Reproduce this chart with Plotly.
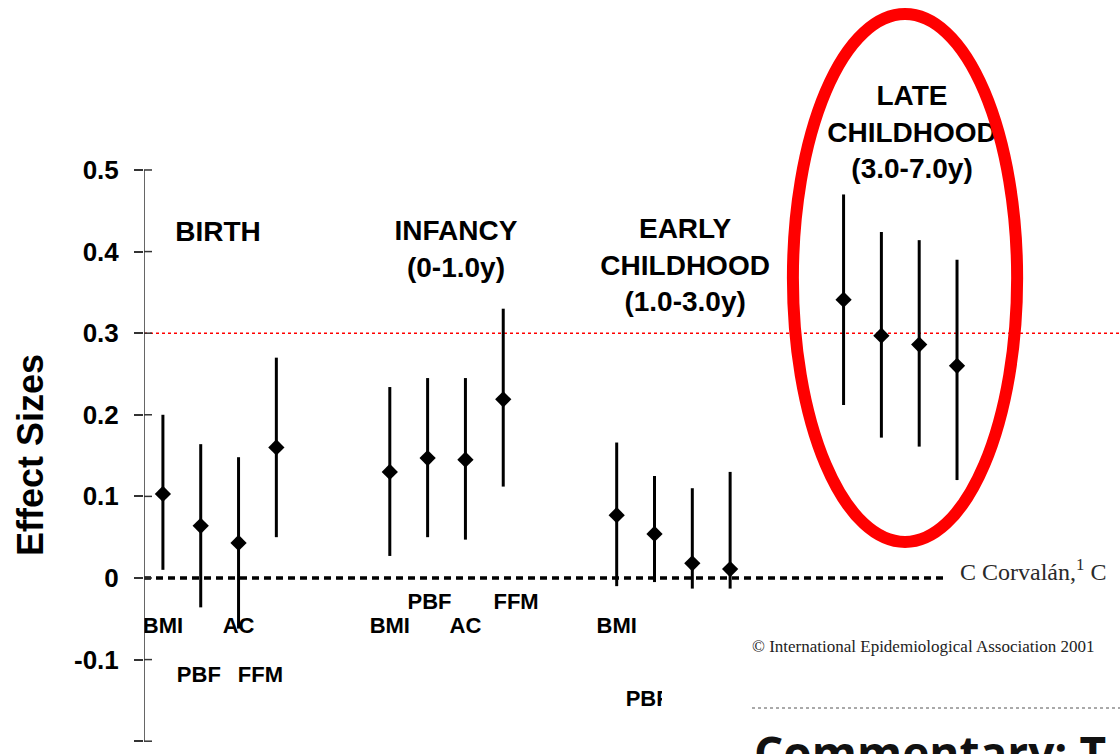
import plotly.graph_objects as go

# ---------------- data ----------------
metrics = ["BMI", "PBF", "AC", "FFM"]
groups = ["BIRTH", "INFANCY<br>(0-1.0y)", "EARLY<br>CHILDHOOD<br>(1.0-3.0y)",
          "LATE<br>CHILDHOOD<br>(3.0-7.0y)"]
effect = [0.103, 0.064, 0.043, 0.160,
          0.130, 0.147, 0.145, 0.219,
          0.077, 0.054, 0.018, 0.011,
          0.341, 0.297, 0.286, 0.260]
upper = [0.200, 0.164, 0.148, 0.270,
         0.234, 0.245, 0.245, 0.330,
         0.166, 0.125, 0.110, 0.130,
         0.470, 0.424, 0.414, 0.390]
lower = [0.010, -0.036, -0.062, 0.050,
         0.027, 0.050, 0.047, 0.112,
         -0.010, -0.005, -0.013, -0.013,
         0.212, 0.172, 0.161, 0.120]
y_ticks = [-0.2, -0.1, 0, 0.1, 0.2, 0.3, 0.4, 0.5]
y_ticktext = ["-0.2", "-0.1", "0", "0.1", "0.2", "0.3", "0.4", "0.5"]
ref_line = 0.3

# visible metric labels (group index, metric index)
label_items = [(0, 0), (0, 1), (0, 2), (0, 3),
               (1, 0), (1, 1), (1, 2), (1, 3),
               (2, 0), (2, 1)]

# ---------------- layout helpers ----------------
GROUP_STEP = 6
x_pos = [g * GROUP_STEP + m + 1 for g in range(len(groups)) for m in range(len(metrics))]
err_plus = [u - e for u, e in zip(upper, effect)]
err_minus = [e - l for e, l in zip(effect, lower)]

# label placement (layout only)
label_dx = [0.0, -0.05, 0.0, -0.42, 0.0, 0.05, 0.0, 0.34, 0.0, -0.18]
label_y = [-0.061, -0.121, -0.061, -0.121, -0.061, -0.031, -0.061, -0.031, -0.061, -0.150]
title_x = [2.455, 8.75, 14.81, 20.81]
title_y = [0.421, 0.400, 0.380, 0.543]

X_RANGE = [0.5, 26.31]
Y_RANGE = [-0.2157, 0.7083]
FONT = "Liberation Sans, Arial, sans-serif"

fig = go.Figure()

fig.add_trace(go.Scatter(
    x=x_pos, y=effect, mode="markers",
    marker=dict(symbol="diamond", size=12.5, color="black"),
    error_y=dict(type="data", array=err_plus, arrayminus=err_minus,
                 thickness=3, width=0, color="black", symmetric=False),
    showlegend=False, hoverinfo="skip"))

lx = [x_pos[g * len(metrics) + m] + d for (g, m), d in zip(label_items, label_dx)]
lt = [metrics[m] for g, m in label_items]
fig.add_trace(go.Scatter(
    x=lx, y=label_y, mode="text", text=lt, textposition="middle center",
    textfont=dict(family=FONT, size=22, color="black", weight="bold"),
    showlegend=False, hoverinfo="skip"))

fig.add_trace(go.Scatter(
    x=title_x, y=title_y, mode="text", text=groups, textposition="middle center",
    textfont=dict(family=FONT, size=28, color="black", weight="bold"),
    showlegend=False, hoverinfo="skip"))

shapes = []
# zero dashed line
shapes.append(dict(type="line", xref="x", yref="y", x0=X_RANGE[0], x1=X_RANGE[1],
                   y0=0, y1=0, layer="below",
                   line=dict(color="black", width=3.5, dash="7px,5px")))
# red dotted reference line
shapes.append(dict(type="line", xref="x", yref="y", x0=X_RANGE[0], x1=X_RANGE[1],
                   y0=ref_line, y1=ref_line, layer="below",
                   line=dict(color="red", width=1.5, dash="dot")))
# y axis line
shapes.append(dict(type="line", xref="x", yref="y", x0=X_RANGE[0], x1=X_RANGE[0],
                   y0=y_ticks[0], y1=y_ticks[-1],
                   line=dict(color="#333333", width=1.5)))
# inner half of cross ticks
for t in y_ticks:
    shapes.append(dict(type="line", xref="paper", yref="y", x0=0, x1=8 / 976,
                       y0=t, y1=t, line=dict(color="#333333", width=1.5)))
# red ellipse
shapes.append(dict(type="circle", xref="x", yref="y", x0=17.66, x1=23.59,
                   y0=0.0441, y1=0.691, layer="above",
                   line=dict(color="#ff0000", width=12)))
# white overlay from the article page
def px(xp):
    return (xp - 144) / 976
def py(yp):
    return 1 - yp / 754
shapes.append(dict(type="rect", xref="paper", yref="paper", x0=px(662), x1=px(1125),
                   y0=py(760), y1=py(596), layer="above",
                   fillcolor="white", line=dict(width=0)))
shapes.append(dict(type="rect", xref="paper", yref="paper", x0=px(943), x1=px(1125),
                   y0=py(597), y1=py(552), layer="above",
                   fillcolor="white", line=dict(width=0)))
shapes.append(dict(type="line", xref="paper", yref="paper", x0=px(752), x1=px(1125),
                   y0=py(708), y1=py(708), layer="above",
                   line=dict(color="#555555", width=1, dash="dot")))

annotations = [
    dict(text="Effect Sizes", xref="paper", yref="paper", x=px(30), y=py(455),
         textangle=-90, showarrow=False, xanchor="center", yanchor="middle",
         font=dict(family=FONT, size=36, color="black", weight="bold")),
    dict(text="C Corvalán,<sup>1</sup> C", xref="paper", yref="paper", x=px(958), y=py(570),
         showarrow=False, xanchor="left", yanchor="middle",
         font=dict(family="Liberation Serif, serif", size=24, color="#2a2a2a")),
    dict(text="© International Epidemiological Association 2001", xref="paper", yref="paper",
         x=px(750), y=py(646), showarrow=False, xanchor="left", yanchor="middle",
         font=dict(family="Liberation Serif, serif", size=17, color="#222222")),
    dict(text="Commentary: T", xref="paper", yref="paper", x=px(752), y=py(752),
         showarrow=False, xanchor="left", yanchor="middle",
         font=dict(family="Open Sans, sans-serif", size=46, color="#111111", weight="bold")),
]

fig.update_layout(
    width=1120, height=754,
    margin=dict(l=144, r=0, t=0, b=0),
    paper_bgcolor="white", plot_bgcolor="white",
    xaxis=dict(range=X_RANGE, visible=False, fixedrange=True),
    yaxis=dict(range=Y_RANGE, tickvals=y_ticks, ticktext=y_ticktext,
               ticks="outside", ticklen=9, tickwidth=1.5, tickcolor="#333333",
               showgrid=False, zeroline=False, showline=False,
               ticklabelstandoff=10, fixedrange=True,
               tickfont=dict(family=FONT, size=26, color="black", weight="bold")),
    shapes=shapes, annotations=annotations, showlegend=False,
)

fig.write_html("out.html", config={"displayModeBar": False},
               post_script="document.body.style.margin='0px';document.body.style.overflow='hidden';")
